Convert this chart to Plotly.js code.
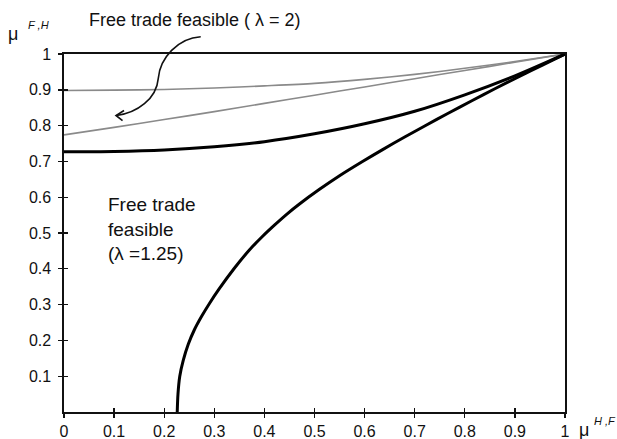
<!DOCTYPE html>
<html>
<head>
<meta charset="utf-8">
<script src="https://cdn.plot.ly/plotly-3.0.1.min.js"></script>
<style>html,body{margin:0;padding:0;background:#fff;}#chart{width:617px;height:439px;}</style>
</head>
<body>
<div id="chart"></div>
<script>
// Upper gray curve (lambda = 2)
const grayUpperX = [0, 0.1, 0.2, 0.3, 0.4, 0.5, 0.6, 0.7, 0.8, 0.9, 1];
const grayUpperY = [0.898, 0.899, 0.901, 0.905, 0.911, 0.918, 0.929, 0.943, 0.96, 0.979, 1];
// Lower gray curve (lambda = 2)
const grayLowerX = [0, 0.1, 0.2, 0.3, 0.4, 0.5, 0.6, 0.7, 0.8, 0.9, 1];
const grayLowerY = [0.774, 0.795, 0.817, 0.839, 0.862, 0.885, 0.908, 0.931, 0.954, 0.977, 1];
// Upper black curve (lambda = 1.25)
const blackUpperX = [0, 0.1, 0.2, 0.3, 0.4, 0.5, 0.6, 0.7, 0.8, 0.9, 1];
const blackUpperY = [0.727, 0.728, 0.732, 0.741, 0.755, 0.777, 0.805, 0.84, 0.886, 0.939, 1];
// Lower black curve (lambda = 1.25)
const blackLowerX = [0.226, 0.2275, 0.231, 0.238, 0.248, 0.26, 0.275, 0.29, 0.31, 0.34, 0.37, 0.395, 0.42, 0.445, 0.47, 0.51, 0.55, 0.595, 0.636, 0.68, 0.72, 0.765, 0.815, 0.86, 0.91, 0.955, 1];
const blackLowerY = [0, 0.05, 0.099, 0.144, 0.189, 0.229, 0.268, 0.3025, 0.3445, 0.4015, 0.4525, 0.489, 0.522, 0.553, 0.581, 0.622, 0.66, 0.699, 0.733, 0.768, 0.799, 0.833, 0.87, 0.903, 0.938, 0.969, 1];

const xTickVals = [0, 0.1, 0.2, 0.3, 0.4, 0.5, 0.6, 0.7, 0.8, 0.9, 1];
const xTickText = ["0", "0.1", "0.2", "0.3", "0.4", "0.5", "0.6", "0.7", "0.8", "0.9", "1"];
const yTickVals = [0.1, 0.2, 0.3, 0.4, 0.5, 0.6, 0.7, 0.8, 0.9, 1];
const yTickText = ["0.1", "0.2", "0.3", "0.4", "0.5", "0.6", "0.7", "0.8", "0.9", "1"];

const FONT = '"Liberation Sans", Arial, Helvetica, sans-serif';
const L = 64, R = 52, T = 54, B = 27, W = 617, H = 439;
const pw = W - L - R, ph = H - T - B;
function px(x) { return ((x - L) / pw).toFixed(4); }
function py(y) { return ((H - B - y) / ph).toFixed(4); }
function P(x, y) { return px(x) + ',' + py(y); }

const arrowPath = 'M' + P(200.7, 36.7) + ' C' + P(178, 38) + ' ' + P(160, 58) + ' ' + P(158.3, 78.3) +
  ' C' + P(156.5, 99) + ' ' + P(137, 113) + ' ' + P(116.5, 115.5);
const headPath = 'M' + P(124, 110.5) + ' L' + P(116, 115.5) + ' L' + P(122.5, 120.5);

const traces = [
  {x: grayUpperX, y: grayUpperY, mode: 'lines', line: {color: '#8a8a8a', width: 1.6, shape: 'spline', smoothing: 0.8}, hoverinfo: 'skip'},
  {x: grayLowerX, y: grayLowerY, mode: 'lines', line: {color: '#8a8a8a', width: 1.6, shape: 'spline', smoothing: 0.8}, hoverinfo: 'skip'},
  {x: blackUpperX, y: blackUpperY, mode: 'lines', line: {color: '#000', width: 3, shape: 'spline', smoothing: 0.8}, hoverinfo: 'skip'},
  {x: blackLowerX, y: blackLowerY, mode: 'lines', line: {color: '#000', width: 3, shape: 'spline', smoothing: 0.8}, hoverinfo: 'skip'},
  {x: [null], y: [null], xaxis: 'x2', yaxis: 'y2', mode: 'lines', hoverinfo: 'skip'}
];

const layout = {
  width: W, height: H,
  margin: {l: L, r: R, t: T, b: B, pad: 0},
  paper_bgcolor: '#fff', plot_bgcolor: '#fff',
  showlegend: false,
  font: {family: FONT, size: 16, color: '#111'},
  xaxis: {
    range: [0, 1], tickvals: xTickVals, ticktext: xTickText,
    showgrid: false, zeroline: false,
    showline: true, linecolor: '#111', linewidth: 1.6, mirror: true,
    ticks: 'outside', ticklen: 4, tickwidth: 1.4, tickcolor: '#111',
    ticklabelstandoff: 0,
    tickfont: {family: FONT, size: 16, color: '#111'}
  },
  yaxis: {
    range: [0, 1], tickvals: yTickVals, ticktext: yTickText,
    showgrid: false, zeroline: false,
    showline: true, linecolor: '#111', linewidth: 1.6, mirror: true,
    ticks: 'outside', ticklen: 4, tickwidth: 1.4, tickcolor: '#111',
    ticklabelstandoff: 4,
    tickfont: {family: FONT, size: 16, color: '#111'}
  },
  xaxis2: {
    range: [0, 1], tickvals: xTickVals, overlaying: 'x', anchor: 'y2', side: 'bottom',
    showticklabels: false, showgrid: false, zeroline: false, showline: false,
    ticks: 'inside', ticklen: 4, tickwidth: 1.4, tickcolor: '#111'
  },
  yaxis2: {
    range: [0, 1], tickvals: yTickVals, overlaying: 'y', anchor: 'x2', side: 'left',
    showticklabels: false, showgrid: false, zeroline: false, showline: false,
    ticks: 'inside', ticklen: 4, tickwidth: 1.4, tickcolor: '#111'
  },
  shapes: [
    {type: 'path', xref: 'paper', yref: 'paper', path: arrowPath, line: {color: '#111', width: 1.6}},
    {type: 'path', xref: 'paper', yref: 'paper', path: headPath, line: {color: '#111', width: 1.6}}
  ],
  annotations: [
    {xref: 'paper', yref: 'paper', x: px(87), y: py(20), xanchor: 'left', yanchor: 'middle', showarrow: false,
     text: 'Free trade feasible ( λ = 2)', font: {family: FONT, size: 18, color: '#111'}},
    {xref: 'paper', yref: 'paper', x: px(106), y: py(229), xanchor: 'left', yanchor: 'middle', align: 'left', showarrow: false,
     text: 'Free trade<br>feasible<br>(λ =1.25)', font: {family: FONT, size: 19, color: '#111'}},
    {xref: 'paper', yref: 'paper', x: px(6), y: py(34), xanchor: 'left', yanchor: 'middle', showarrow: false,
     text: 'μ', font: {family: FONT, size: 18, color: '#111'}},
    {xref: 'paper', yref: 'paper', x: px(26), y: py(25), xanchor: 'left', yanchor: 'middle', showarrow: false,
     text: '<i>F ,H</i>', font: {family: FONT, size: 11, color: '#111'}},
    {xref: 'paper', yref: 'paper', x: px(577), y: py(430), xanchor: 'left', yanchor: 'middle', showarrow: false,
     text: 'μ', font: {family: FONT, size: 18, color: '#111'}},
    {xref: 'paper', yref: 'paper', x: px(592), y: py(421), xanchor: 'left', yanchor: 'middle', showarrow: false,
     text: '<i>H ,F</i>', font: {family: FONT, size: 11, color: '#111'}}
  ]
};

Plotly.newPlot('chart', traces, layout, {staticPlot: true, displayModeBar: false});
</script>
</body>
</html>
